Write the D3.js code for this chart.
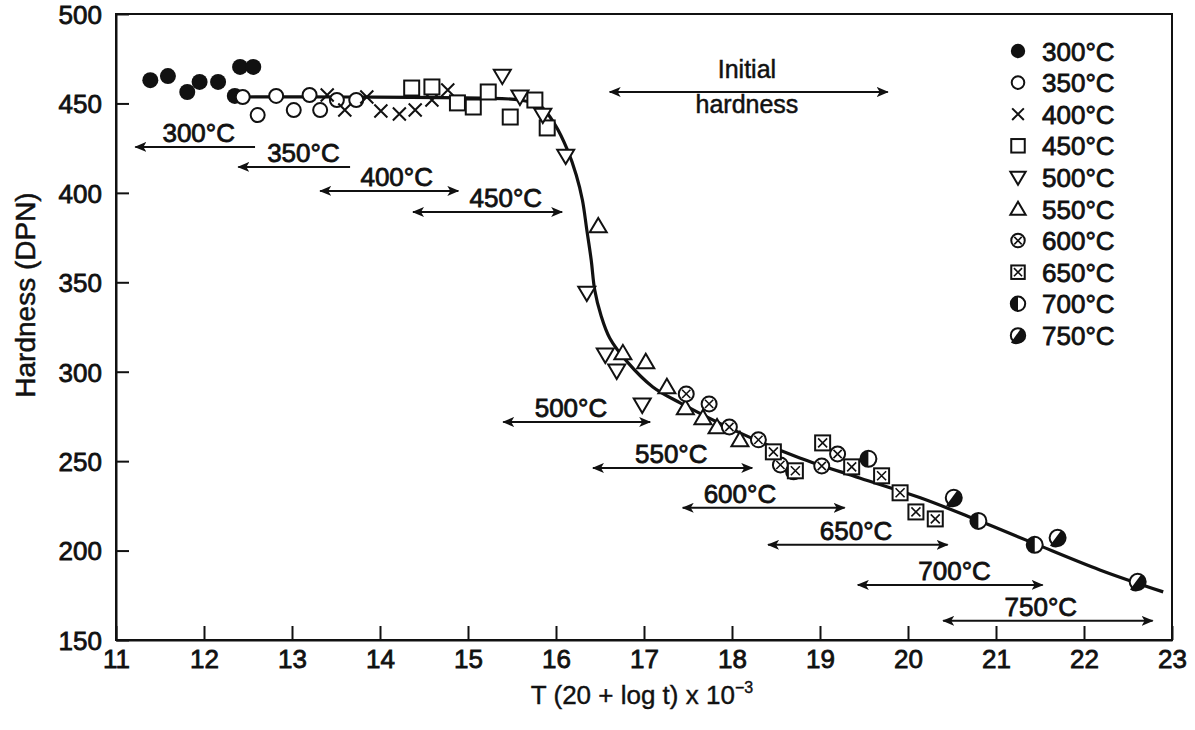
<!DOCTYPE html>
<html><head><meta charset="utf-8">
<script src="https://cdn.jsdelivr.net/npm/d3@7"></script>
<style>
body{margin:0;background:#fff}
text{font-family:"Liberation Sans",Arial,Helvetica,sans-serif;fill:#111}
</style>
</head><body>
<svg id="c" width="1195" height="730"></svg>
<script>
// ---------- data ----------
const xTicks = [11,12,13,14,15,16,17,18,19,20,21,22,23];
const yTicks = [150,200,250,300,350,400,450,500];

const s300 = [[11.39,463],[11.59,465.3],[11.81,456.4],[11.95,462],[12.16,462],[12.35,454.2],[12.41,470.4],[12.56,470.4]];
const s350 = [[12.44,453.6],[12.61,443.5],[12.82,454.2],[13.02,446.3],[13.20,454.7],[13.32,446.3],[13.51,451.9],[13.73,451.9]];
const s400 = [[13.40,454.7],[13.60,446.3],[13.85,453.6],[14.01,445.8],[14.22,444.1],[14.40,446.3],[14.59,451.9],[14.77,457.5]];
const s450 = [[14.36,458.6],[14.59,459.2],[14.88,450.3],[15.06,448.0],[15.23,456.4],[15.48,442.4],[15.76,451.9],[15.90,436.3]];
const s500 = [[15.39,465.3],[15.59,453.6],[15.85,443.5],[16.11,420.6],[16.35,344.0],[16.56,309.4],[16.69,300.4],[16.98,281.4]];
const s550 = [[16.48,381.5],[16.76,310.5],[17.02,305.5],[17.26,291.5],[17.47,279.8],[17.67,274.2],[17.83,269.1],[18.09,261.9]];
const s600 = [[17.48,287.6],[17.74,282.0],[17.97,269.1],[18.30,261.9],[18.55,247.9],[18.70,244.0],[19.02,247.3],[19.20,254.0]];
const s650 = [[18.47,255.2],[18.72,244.6],[19.03,260.2],[19.36,246.8],[19.70,241.8],[19.91,232.3],[20.09,221.6],[20.31,217.7]];
const s700 = [[19.55,251.3],[20.80,216.6],[21.44,203.2]];
const s750 = [[20.52,229.5],[21.70,207.1],[22.61,182.5]];

const seriesNames = ["300°C","350°C","400°C","450°C","500°C","550°C","600°C","650°C","700°C","750°C"];
const seriesKinds = ["filled","open","cross","square","down","up","circx","squarex","half","quarter"];
const seriesData  = [s300,s350,s400,s450,s500,s550,s600,s650,s700,s750];

// master curve
const masterCurve = [[12.30,453.6],[13.66,453.6],[15.14,453.0],[15.59,451.9],[15.82,448.6],[15.99,438.0],
  [16.13,424.0],[16.23,410.0],[16.30,396.0],[16.35,379.3],[16.40,362.5],[16.44,345.7],[16.51,331.7],
  [16.61,318.9],[16.81,305.5],[17.10,291.5],[17.41,282.6],[18.09,265.8],[18.77,251.8],[19.45,240.6],
  [20.14,229.5],[20.78,217.2],[21.42,204.3],[22.18,189.2],[22.90,176.9]];

// temperature ranges (x1, x2, y, label centre x, heads)
const rangeLabels = ["300°C","350°C","400°C","450°C","500°C","550°C","600°C","650°C","700°C","750°C"];
const rangeX1 = [11.22,12.39,13.32,14.375,15.40,16.42,17.44,18.41,19.43,20.40];
const rangeX2 = [12.58,13.66,14.89,16.07,17.07,18.23,19.28,20.45,21.53,22.78];
const rangeY  = [425.7,414.5,401.1,389.3,271.9,246.2,223.9,203.2,180.8,160.7];
const rangeLX = [11.94,13.13,14.19,15.43,16.17,17.31,18.09,19.41,20.53,21.51];
const rangeHeads = ["left","left","both","both","both","both","both","both","both","both"];
const initial = {x1:16.61, x2:19.77, y:456.4, lx:18.17, top:"Initial", bottom:"hardness"};

// ---------- chart ----------
const svg = d3.select("#c");
const X0=116, X1=1172, Y0=14, Y1=640;
const x = d3.scaleLinear().domain([11,23]).range([X0,X1]);
const y = d3.scaleLinear().domain([150,500]).range([Y1,Y0]);
const FONT = 26, SW = 0.8;

const defs = svg.append("defs");
defs.append("marker").attr("id","ah").attr("viewBox","0 0 12 10").attr("refX",11).attr("refY",5)
  .attr("markerWidth",12).attr("markerHeight",10).attr("markerUnits","userSpaceOnUse")
  .attr("orient","auto-start-reverse")
  .append("path").attr("d","M0,0 L12,5 L0,10 L3,5 Z").attr("fill","#111");

// frame
svg.append("rect").attr("x",X0).attr("y",Y0).attr("width",X1-X0).attr("height",Y1-Y0)
  .attr("fill","none").attr("stroke","#111").attr("stroke-width",2);

// axes
const gx = svg.append("g").attr("transform",`translate(0,${Y1})`)
  .call(d3.axisBottom(x).tickValues(xTicks).tickFormat(d3.format("d")).tickSize(-14).tickSizeOuter(0).tickPadding(8));
const gy = svg.append("g").attr("transform",`translate(${X0},0)`)
  .call(d3.axisLeft(y).tickValues(yTicks).tickFormat(d3.format("d")).tickSize(-13).tickSizeOuter(0).tickPadding(14));
[gx,gy].forEach(g=>{
  g.select(".domain").attr("stroke","#111").attr("stroke-width",2);
  g.selectAll(".tick line").attr("stroke","#111").attr("stroke-width",2);
  g.selectAll(".tick text").attr("font-size",FONT).attr("fill","#111")
    .attr("stroke","#111").attr("stroke-width",SW)
    .style("font-family","'Liberation Sans',Arial,sans-serif");
});
gx.selectAll(".tick text").attr("dy","0.75em");
gy.selectAll(".tick text").attr("dy","0.36em");

// axis titles
svg.append("text").attr("x",642).attr("y",704).attr("text-anchor","middle").attr("font-size",26)
  .attr("stroke","#111").attr("stroke-width",0.4)
  .html('T (20 + log t) x 10<tspan dy="-11" font-size="16">−3</tspan>');
svg.append("text").attr("transform","translate(35,295) rotate(-90)").attr("text-anchor","middle")
  .attr("font-size",28).attr("stroke","#111").attr("stroke-width",0.5).text("Hardness (DPN)");

// master curve
svg.append("path").datum(masterCurve)
  .attr("d",d3.line().x(d=>x(d[0])).y(d=>y(d[1])).curve(d3.curveCatmullRom.alpha(0.5)))
  .attr("fill","none").attr("stroke","#111").attr("stroke-width",3.2);

// range arrows
function arrow(x1,x2,yy,heads){
  const l = svg.append("line").attr("x1",x(x1)).attr("x2",x(x2)).attr("y1",y(yy)).attr("y2",y(yy))
    .attr("stroke","#111").attr("stroke-width",2);
  l.attr("marker-start","url(#ah)");
  if(heads==="both") l.attr("marker-end","url(#ah)");
}
rangeLabels.forEach((lab,i)=>{
  arrow(rangeX1[i],rangeX2[i],rangeY[i],rangeHeads[i]);
  svg.append("text").attr("x",x(rangeLX[i])).attr("y",y(rangeY[i])-5).attr("text-anchor","middle")
    .attr("font-size",FONT).attr("stroke","#111").attr("stroke-width",SW).text(lab);
});
arrow(initial.x1,initial.x2,initial.y,"both");
svg.append("text").attr("x",x(initial.lx)).attr("y",y(initial.y)-14).attr("text-anchor","middle")
  .attr("font-size",FONT-1).attr("stroke","#111").attr("stroke-width",0.5).text(initial.top);
svg.append("text").attr("x",x(initial.lx)).attr("y",y(initial.y)+21).attr("text-anchor","middle")
  .attr("font-size",FONT-1).attr("stroke","#111").attr("stroke-width",0.5).text(initial.bottom);

// markers
function drawMarker(g, kind, s){
  const sw = 2;
  if(kind==="filled"){
    g.append("circle").attr("r",8*s).attr("fill","#111");
  } else if(kind==="open"){
    g.append("circle").attr("r",7*s).attr("fill","#fff").attr("stroke","#111").attr("stroke-width",sw);
  } else if(kind==="cross"){
    const a=6.5*s;
    g.append("path").attr("d",`M${-a},${-a}L${a},${a}M${-a},${a}L${a},${-a}`).attr("stroke","#111").attr("stroke-width",sw);
  } else if(kind==="square"){
    const a=7.5*s;
    g.append("rect").attr("x",-a).attr("y",-a).attr("width",2*a).attr("height",2*a)
      .attr("fill","#fff").attr("stroke","#111").attr("stroke-width",sw);
  } else if(kind==="down"){
    const a=8.5*s;
    g.append("path").attr("d",`M${-a},${-a*0.75}L${a},${-a*0.75}L0,${a*0.95}Z`)
      .attr("fill","#fff").attr("stroke","#111").attr("stroke-width",sw);
  } else if(kind==="up"){
    const a=8.5*s;
    g.append("path").attr("d",`M${-a},${a*0.75}L${a},${a*0.75}L0,${-a*0.95}Z`)
      .attr("fill","#fff").attr("stroke","#111").attr("stroke-width",sw);
  } else if(kind==="circx"){
    const r=7.5*s, a=r*0.55;
    g.append("circle").attr("r",r).attr("fill","#fff").attr("stroke","#111").attr("stroke-width",sw);
    g.append("path").attr("d",`M${-a},${-a}L${a},${a}M${-a},${a}L${a},${-a}`).attr("stroke","#111").attr("stroke-width",1.6);
  } else if(kind==="squarex"){
    const a=7.5*s, b=a*0.6;
    g.append("rect").attr("x",-a).attr("y",-a).attr("width",2*a).attr("height",2*a)
      .attr("fill","#fff").attr("stroke","#111").attr("stroke-width",sw);
    g.append("path").attr("d",`M${-b},${-b}L${b},${b}M${-b},${b}L${b},${-b}`).attr("stroke","#111").attr("stroke-width",1.6);
  } else if(kind==="half"){
    const r=8*s;
    g.append("circle").attr("r",r).attr("fill","#fff").attr("stroke","#111").attr("stroke-width",sw);
    g.append("path").attr("d",`M0,${-r}A${r},${r} 0 0 0 0,${r}Z`).attr("fill","#111");
  } else if(kind==="quarter"){
    const r=8*s, c=r*Math.SQRT1_2;
    g.append("circle").attr("r",r).attr("fill","#fff").attr("stroke","#111").attr("stroke-width",sw);
    g.append("path").attr("d",`M${c-2},${-c-2}A${r},${r} 0 0 1 ${-c-2},${c+2}Z`)
      .attr("fill","#111");
  }
}
seriesData.forEach((data,i)=>{
  const grp = svg.append("g");
  data.forEach(d=>{
    const g = grp.append("g").attr("transform",`translate(${x(d[0])},${y(d[1])})`);
    drawMarker(g, seriesKinds[i], 1);
  });
});

// legend
const LX=1018, LY=51, LS=31.6;
seriesNames.forEach((n,i)=>{
  const g = svg.append("g").attr("transform",`translate(${LX},${LY+i*LS})`);
  drawMarker(g, seriesKinds[i], 0.9);
  svg.append("text").attr("x",LX+24).attr("y",LY+i*LS+9.5).attr("font-size",FONT)
    .attr("stroke","#111").attr("stroke-width",SW).text(n);
});
</script>
</body></html>
